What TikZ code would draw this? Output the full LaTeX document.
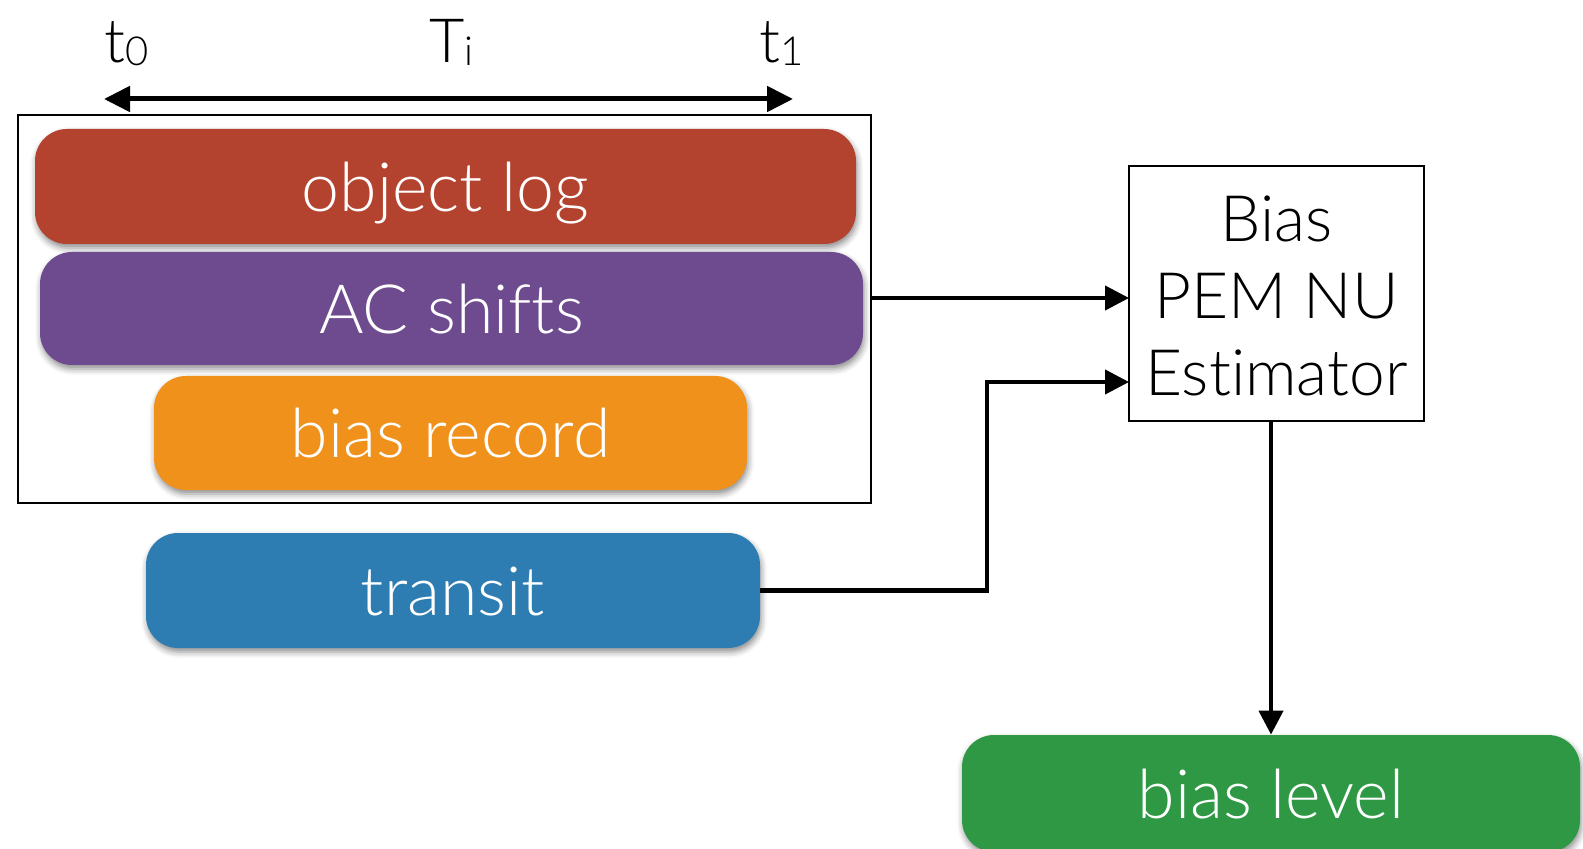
\documentclass[tikz,border=0pt]{standalone}
\usepackage{fontspec}
\setmainfont{Lato Light}[Ligatures=NoCommon]
\usetikzlibrary{arrows.meta,shadows.blur}

\definecolor{logred}{HTML}{B3432F}
\definecolor{acpurple}{HTML}{6E4A8E}
\definecolor{recorange}{HTML}{F0911C}
\definecolor{transblue}{HTML}{2E7DB2}
\definecolor{levelgreen}{HTML}{2E9844}

\tikzset{
  pill/.style={rounded corners=16pt, draw=none, text=white,
    font=\fontsize{34}{40}\selectfont, text height=25pt, text depth=0pt,
    inner sep=0pt,
    blur shadow={shadow xshift=0.6pt, shadow yshift=-2pt,
      shadow blur radius=3pt, shadow opacity=45}},
  timelabel/.style={font=\fontsize{30.5}{36}\selectfont, anchor=base west, inner sep=0pt},
  conn/.style={line width=2.1pt, -{Triangle[length=12pt,width=12pt]}},
  span/.style={line width=2.5pt, {Triangle[length=13pt,width=12.5pt]}-{Triangle[length=13pt,width=12.5pt]}},
}
\newcommand{\sub}[1]{{\fontsize{20}{24}\selectfont\raisebox{-1.5pt}{#1}}}

\begin{document}
\begin{tikzpicture}[x=0.5pt,y=-0.5pt]
\useasboundingbox (0,0) rectangle (1583,849);

% time axis
\node[timelabel] (t0) at (104,63) {t\sub{0}};
\node[timelabel] (Ti) at (429,63) {T\sub{i}};
\node[timelabel] (t1) at (759,63) {t\sub{1}};
\coordinate (spanL) at (104,99);
\coordinate (spanR) at (793,99);
\draw[span] (spanL) -- (spanR);

% frame around the windowed inputs
\node[draw, line width=1.1pt, minimum width=426.5pt, minimum height=194pt, inner sep=0pt]
  (frame) at (444.5,309) {};

% inputs
\node[pill, fill=logred, minimum width=410.5pt, minimum height=57.5pt] (objlog) at (445.5,186.5) {object log};
\node[pill, fill=acpurple, minimum width=411.5pt, minimum height=56.5pt] (acshift) at (451.5,308.5) {AC shifts};
\node[pill, fill=recorange, minimum width=296.5pt, minimum height=57pt] (biasrec) at (450.5,433) {bias record};
\node[pill, fill=transblue, minimum width=307pt, minimum height=57.5pt] (transit) at (453,590.5) {transit};

% estimator
\node[draw, line width=1.2pt, minimum width=147.5pt, minimum height=127.5pt, inner sep=0pt]
  (est) at (1276.5,293.5) {};
\node[align=center, inner sep=0pt, font=\fontsize{32}{38.5}\selectfont]
  (estlabel) at ([yshift=-1pt]est.center) {Bias\\PEM NU\\Estimator};

% output
\node[pill, fill=levelgreen, minimum width=309pt, minimum height=58.5pt] (level) at (1271,793.5) {bias level};

% connectors
\coordinate (in1) at (1129,298);
\coordinate (in2) at (1129,382);
\coordinate (bend) at (987,382);
\draw[conn] (frame.east |- in1) -- (in1);
\draw[conn] (transit.east) -| (bend) -- (in2);
\draw[conn] (est.south -| level.north) -- (level.north);
\end{tikzpicture}
\end{document}
